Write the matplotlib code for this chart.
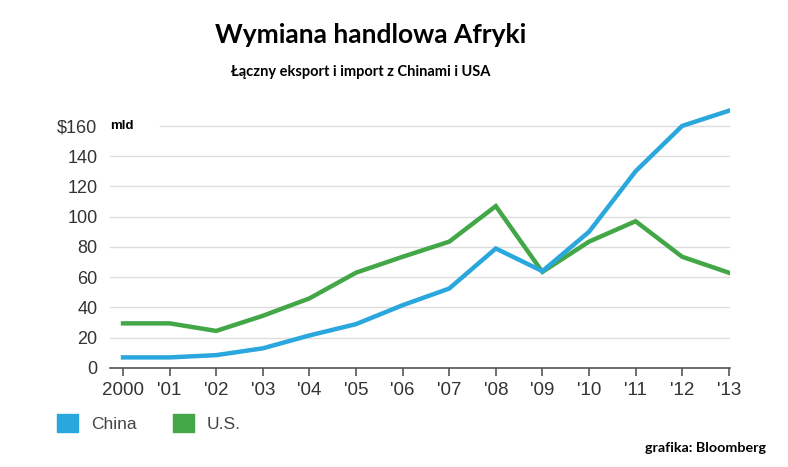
import matplotlib.pyplot as plt
from matplotlib.patches import Patch

years = list(range(2000, 2014))
year_labels = ['2000', "'01", "'02", "'03", "'04", "'05", "'06", "'07",
               "'08", "'09", "'10", "'11", "'12", "'13"]
china = [7, 7, 8.5, 13, 21.5, 29, 41.5, 52.5, 79, 64, 90, 130, 160, 170]
usa = [29.5, 29.5, 24.5, 34.5, 46, 63, 73.5, 83.5, 107, 63.5, 83.5, 97, 73.5, 63]
y_ticks = [0, 20, 40, 60, 80, 100, 120, 140, 160]
y_labels = ['0', '20', '40', '60', '80', '100', '120', '140', '$160']

BLUE = '#2aa7dc'
GREEN = '#43a748'
GRAY = '#333333'
SANS = 'Liberation Sans'

fig = plt.figure(figsize=(7.88, 4.67), dpi=100)
ax = fig.add_axes([0.1396, 0.212, 0.787, 0.567])

ax.plot(years, usa, color=GREEN, lw=3.2, solid_joinstyle='miter')
ax.plot(years, china, color=BLUE, lw=3.2, solid_joinstyle='miter')

ax.set_xlim(2000 - 0.28, 2013.03)
ax.set_ylim(0, 175)

# linie siatki; przy 160 zostawiamy miejsce na "mld"
for t in y_ticks[1:]:
    start = 0.08 if t == 160 else 0
    ax.axhline(t, xmin=start, color='#dddddd', lw=1, zorder=0)

ax.set_yticks(y_ticks)
ax.set_yticklabels(y_labels, family=SANS)
ax.set_xticks(years)
ax.set_xticklabels(year_labels, family=SANS)

for s in ['top', 'right', 'left']:
    ax.spines[s].set_visible(False)
ax.spines['bottom'].set_color('#555555')
ax.spines['bottom'].set_linewidth(1.2)

ax.tick_params(axis='y', length=0, pad=9, labelsize=13, labelcolor=GRAY)
ax.tick_params(axis='x', length=6, width=1.2, color='#555555', pad=4,
               labelsize=13.5, labelcolor=GRAY)

ax.text(0.0, 160, 'mld', transform=ax.get_yaxis_transform(), fontsize=9.5,
        fontweight='bold', family=SANS, va='center', ha='left', color='black')

fig.text(0.47, 0.925, 'Wymiana handlowa Afryki', fontsize=19, fontweight='bold',
         family='Lato', ha='center', va='center')
fig.text(0.458, 0.845, 'Łączny eksport i import z Chinami i USA', fontsize=10.5,
         fontweight='bold', family='Lato', ha='center', va='center')
fig.text(0.972, 0.04, 'grafika: Bloomberg', fontsize=10.3, fontweight='bold',
         family='Lato', ha='right', va='center')

handles = [Patch(color=BLUE, label='China'), Patch(color=GREEN, label='U.S.')]
fig.legend(handles=handles, loc='center left', bbox_to_anchor=(0.0723, 0.0942),
           ncol=2, frameon=False, handlelength=1.2, handleheight=1.2,
           borderpad=0, borderaxespad=0, columnspacing=2.1, handletextpad=0.75,
           prop={'size': 12.5, 'family': SANS}, labelcolor='#444444')

fig.savefig('out.png', dpi=100)
